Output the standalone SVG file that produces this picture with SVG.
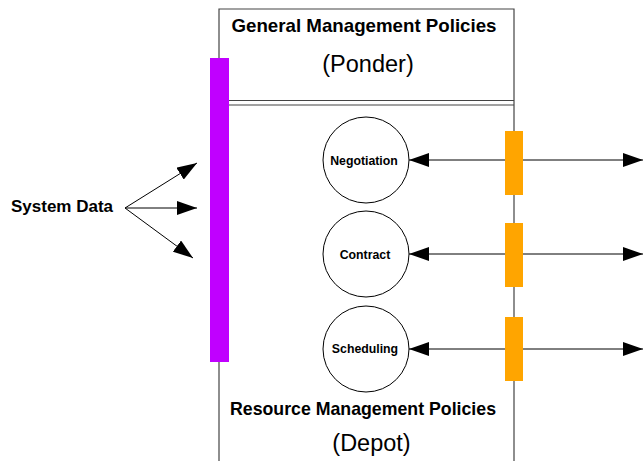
<svg xmlns="http://www.w3.org/2000/svg" width="643" height="461" viewBox="0 0 643 461">
<style>
.ln{stroke:#000;stroke-width:1;fill:none}
.frame{stroke:#444;stroke-width:1.2;fill:none}
.circ{fill:#fff;stroke:#000;stroke-width:1}
.t{font-family:"Liberation Sans",Arial,sans-serif;fill:#000}
.b{font-weight:bold}
.lbl{font-size:12.3px;font-weight:bold;text-anchor:middle}
.orange{fill:#FFA500}
</style>
<defs>
<marker id="ah" markerWidth="20" markerHeight="14" refX="20" refY="7" orient="auto" markerUnits="userSpaceOnUse">
<path d="M0,0 L20,7 L0,14 Z" fill="#000"/>
</marker>
</defs>
<g id="frame">
<path class="frame" d="M219,461 V9 H514 V461"/>
<line class="frame" x1="229" y1="100.5" x2="514" y2="100.5"/>
<line class="frame" x1="229" y1="105" x2="514" y2="105"/>
<text class="t b" x="364" y="32" font-size="19" text-anchor="middle" textLength="265" lengthAdjust="spacingAndGlyphs">General Management Policies</text>
<text class="t" x="368" y="72" font-size="23.5" text-anchor="middle">(Ponder)</text>
<text class="t b" x="363" y="415" font-size="19" text-anchor="middle" textLength="266" lengthAdjust="spacingAndGlyphs">Resource Management Policies</text>
<text class="t" x="371.5" y="451" font-size="23.5" text-anchor="middle">(Depot)</text>
</g>
<g id="connectors">
<line class="ln" x1="125" y1="208" x2="197" y2="163" marker-end="url(#ah)"/>
<line class="ln" x1="125" y1="208" x2="197" y2="208" marker-end="url(#ah)"/>
<line class="ln" x1="125" y1="208" x2="193" y2="258" marker-end="url(#ah)"/>
<line class="ln" x1="505" y1="160" x2="409" y2="160" marker-end="url(#ah)"/>
<line class="ln" x1="523" y1="160" x2="643" y2="160" marker-end="url(#ah)"/>
<line class="ln" x1="505" y1="254" x2="409" y2="254" marker-end="url(#ah)"/>
<line class="ln" x1="523" y1="254" x2="643" y2="254" marker-end="url(#ah)"/>
<line class="ln" x1="505" y1="349" x2="409" y2="349" marker-end="url(#ah)"/>
<line class="ln" x1="523" y1="349" x2="643" y2="349" marker-end="url(#ah)"/>
</g>
<g id="system-data">
<text class="t b" x="11" y="212" font-size="17">System Data</text>
</g>
<g id="input-bar">
<rect x="210" y="58" width="19" height="304" fill="#C000FF"/>
</g>
<g id="negotiation">
<circle class="circ" cx="366" cy="160" r="43"/>
<text class="t lbl" x="364" y="164.5">Negotiation</text>
</g>
<g id="contract">
<circle class="circ" cx="366" cy="254" r="43"/>
<text class="t lbl" x="365" y="258.5">Contract</text>
</g>
<g id="scheduling">
<circle class="circ" cx="366" cy="349" r="43"/>
<text class="t lbl" x="365" y="353">Scheduling</text>
</g>
<g id="port-negotiation"><rect class="orange" x="505" y="131" width="18" height="64"/></g>
<g id="port-contract"><rect class="orange" x="505" y="223" width="18" height="64"/></g>
<g id="port-scheduling"><rect class="orange" x="505" y="317" width="18" height="64"/></g>
</svg>
